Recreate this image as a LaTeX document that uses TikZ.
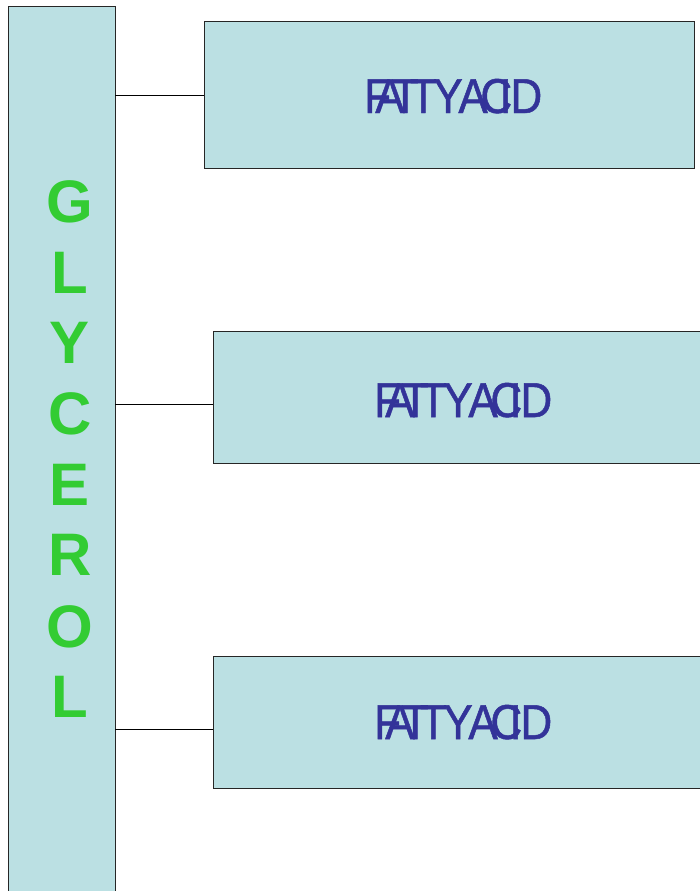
\documentclass[tikz,border=0pt]{standalone}
\usepackage{fontspec}
\setmainfont{Liberation Sans}
\newfontfamily\fafont[FakeStretch=0.9,FakeBold=1]{Liberation Sans}
\definecolor{boxfill}{HTML}{BBE0E3}
\definecolor{glygreen}{HTML}{33CC33}
\definecolor{fablue}{HTML}{333399}
% tightly set chain label, hand-kerned
\newcommand{\chaintext}{F\kern-15.9pt A\kern-12.9pt T\kern-8.9pt T\kern-3.4pt Y\kern-4.4pt A\kern-7.4pt C\kern-12.8pt I\kern-1.3pt D}
\begin{document}
\begin{tikzpicture}[x=1pt,y=-1pt,
  part/.style={draw=black!85,line width=0.9pt,fill=boxfill,rectangle,inner sep=0pt,anchor=north west},
  link/.style={draw=black,line width=0.9pt},
  glyletter/.style={font=\fontsize{60}{60}\selectfont\bfseries,text=glygreen,inner sep=0pt},
  falabel/.style={font=\fafont\fontsize{49}{49}\selectfont,text=fablue,inner sep=0pt,anchor=base west}]
\useasboundingbox (0,0) rectangle (700,891);
\clip (0,0) rectangle (700,891);

% glycerol backbone
\node[part,minimum width=107pt,minimum height=895pt] (gly) at (8,6) {};
\foreach \ch/\yy [count=\i] in {G/202,L/273,Y/343,C/414,E/485,R/555,O/627,L/697}
  \node[glyletter] (g\i) at (70,\yy) {\ch};

% three fatty acid chains
\node[part,minimum width=490pt,minimum height=147pt] (fa1) at (204,21) {};
\node[part,minimum width=500pt,minimum height=132pt] (fa2) at (213,331) {};
\node[part,minimum width=500pt,minimum height=132pt] (fa3) at (213,656) {};

\node[falabel] (t1) at (364,113) {\chaintext};
\node[falabel] (t2) at (374,417) {\chaintext};
\node[falabel] (t3) at (374,739) {\chaintext};

% ester links
\coordinate (j1) at (115,95);
\coordinate (j2) at (115,404);
\coordinate (j3) at (115,729);
\draw[link] (j1) -- (j1 -| fa1.west);
\draw[link] (j2) -- (j2 -| fa2.west);
\draw[link] (j3) -- (j3 -| fa3.west);
\end{tikzpicture}
\end{document}
